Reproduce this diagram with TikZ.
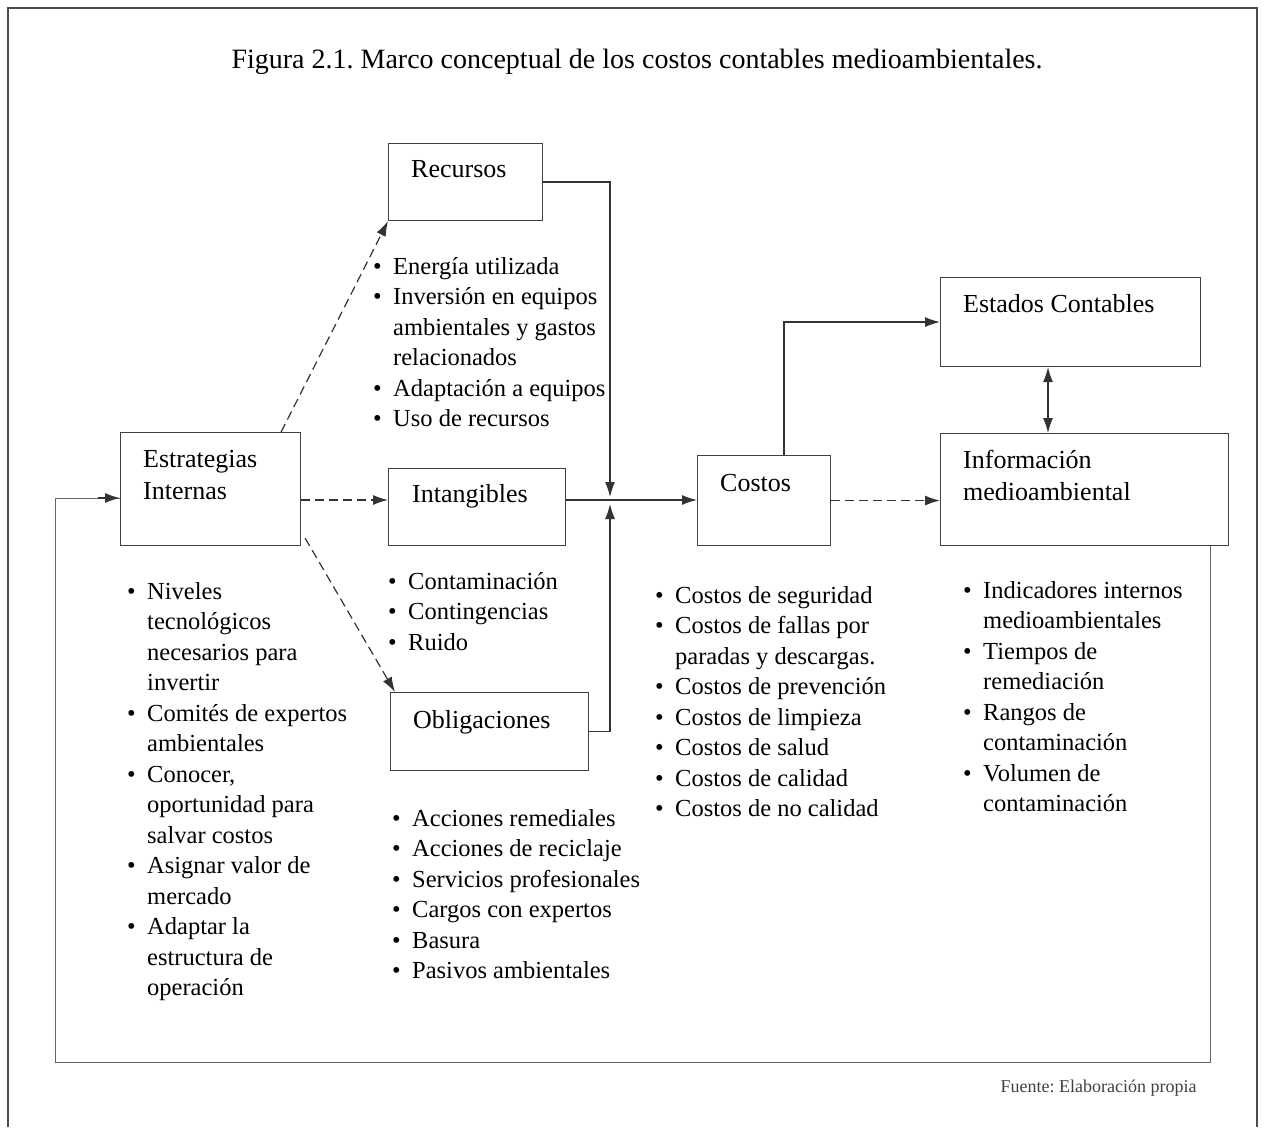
\documentclass[tikz,border=0pt]{standalone}
\usepackage{fontspec}
\setmainfont{Liberation Serif}
\usetikzlibrary{arrows.meta,calc}
\newcommand\itemdot{\makebox[20pt][l]{\textbullet}}
\newcommand\itemgap{\hspace*{20pt}}
\frenchspacing

\begin{document}
\begin{tikzpicture}[x=1pt,y=-1pt,
  box/.style={draw=black!75,line width=1.1pt,anchor=north west,inner sep=0},
  lbl/.style={font=\fontsize{26}{32}\selectfont,align=left,inner sep=0,anchor=north west},
  lst/.style={font=\fontsize{24.5}{30.5}\selectfont,align=left,inner sep=0,anchor=north west},
  link/.style={draw=black!80,line width=1.2pt},
  dashlink/.style={link,dash pattern=on 9pt off 5pt},
  loop/.style={draw=black!60,line width=1pt},
  tip/.style={-{Latex[length=15pt,width=10pt]}},
  both/.style={{Latex[length=15pt,width=10pt]}-{Latex[length=15pt,width=10pt]}},
  ]
\useasboundingbox (0,0) rectangle (1265,1127);

% outer frame
\draw[black!70,line width=1.2pt] (8,1127) -- (8,8) -- (1257,8) -- (1257,1127);

% title
\node[font=\fontsize{28}{32}\selectfont] (title) at (637,62)
  {Figura 2.1. Marco conceptual de los costos contables medioambientales.};

% boxes
\node[box,minimum width=180pt,minimum height=113pt] (est) at (120,432) {};
\node[box,minimum width=154pt,minimum height=77pt]  (rec) at (388,143) {};
\node[box,minimum width=177pt,minimum height=77pt]  (int) at (388,468) {};
\node[box,minimum width=198pt,minimum height=78pt]  (obl) at (390,692) {};
\node[box,minimum width=133pt,minimum height=90pt]  (cos) at (697,455) {};
\node[box,minimum width=260pt,minimum height=89pt]  (edo) at (940,277) {};
\node[box,minimum width=288pt,minimum height=112pt] (inf) at (940,433) {};

% box titles
\node[lbl] (estT) at (143,450) {Estrategias\\Internas};
\node[lbl] (recT) at (411,160) {Recursos};
\node[lbl] (intT) at (412,484) {Intangibles};
\node[lbl] (oblT) at (413,710) {Obligaciones};
\node[lbl] (cosT) at (720,474) {Costos};
\node[lbl] (edoT) at (963,294) {Estados Contables};
\node[lbl] (infT) at (963,450) {Información\\medioambiental};

% item lists
\node[lst] (estL) at (127,582) {%
  \itemdot Niveles\\ \itemgap tecnológicos\\ \itemgap necesarios para\\ \itemgap invertir\\
  \itemdot Comités de expertos\\ \itemgap ambientales\\
  \itemdot Conocer,\\ \itemgap oportunidad para\\ \itemgap salvar costos\\
  \itemdot Asignar valor de\\ \itemgap mercado\\
  \itemdot Adaptar la\\ \itemgap estructura de\\ \itemgap operación};
\node[lst] (recL) at (373,257) {%
  \itemdot Energía utilizada\\
  \itemdot Inversión en equipos\\ \itemgap ambientales y gastos\\ \itemgap relacionados\\
  \itemdot Adaptación a equipos\\
  \itemdot Uso de recursos};
\node[lst] (intL) at (388,572) {%
  \itemdot Contaminación\\ \itemdot Contingencias\\ \itemdot Ruido};
\node[lst] (oblL) at (392,809) {%
  \itemdot Acciones remediales\\ \itemdot Acciones de reciclaje\\
  \itemdot Servicios profesionales\\ \itemdot Cargos con expertos\\
  \itemdot Basura\\ \itemdot Pasivos ambientales};
\node[lst] (cosL) at (655,586) {%
  \itemdot Costos de seguridad\\
  \itemdot Costos de fallas por\\ \itemgap paradas y descargas.\\
  \itemdot Costos de prevención\\ \itemdot Costos de limpieza\\
  \itemdot Costos de salud\\ \itemdot Costos de calidad\\
  \itemdot Costos de no calidad};
\node[lst] (infL) at (963,581) {%
  \itemdot Indicadores internos\\ \itemgap medioambientales\\
  \itemdot Tiempos de\\ \itemgap remediación\\
  \itemdot Rangos de\\ \itemgap contaminación\\
  \itemdot Volumen de\\ \itemgap contaminación};

% source note
\node[font=\fontsize{18}{22}\selectfont,text=black!75,anchor=east] (src) at (1200,1088)
  {Fuente: Elaboración propia};

% helper points
\coordinate (j)   at (610,500);
\coordinate (jd)  at (610,497);
\coordinate (ju)  at (610,504);
\coordinate (dx)  at (1048,0);
\coordinate (fx)  at (1210,0);
\coordinate (lb)  at (55,1062);
\coordinate (ly)  at (0,498);

% strategies to the three groups
\draw[dashlink,tip] ($(est.north east)+(-20,0)$) -- (rec.south west);
\draw[dashlink,tip] (est.east |- j) -- (int.west |- j);
\draw[dashlink,tip] ($(est.south east)+(4,-8)$) -- ($(obl.north west)+(5,0)$);

% groups join into costs
\draw[link,tip] (rec.east) -| (jd);
\draw[link,tip] (obl.east) -| (ju);
\draw[link,tip] (int.east |- j) -- (cos.west |- j);

% costs to statements and information
\draw[link,tip] ($(cos.north)+(20,0)$) |- (edo.west);
\draw[dashlink,tip] (cos.east) -- (inf.west |- cos.east);
\draw[link,both] (edo.south -| dx) -- (inf.north -| dx);

% feedback loop back to the strategies
\draw[loop] (inf.south -| fx) |- (lb) |- (est.west |- ly);
\draw[link,tip] ($(est.west |- ly)+(-22,0)$) -- (est.west |- ly);
\end{tikzpicture}
\end{document}
